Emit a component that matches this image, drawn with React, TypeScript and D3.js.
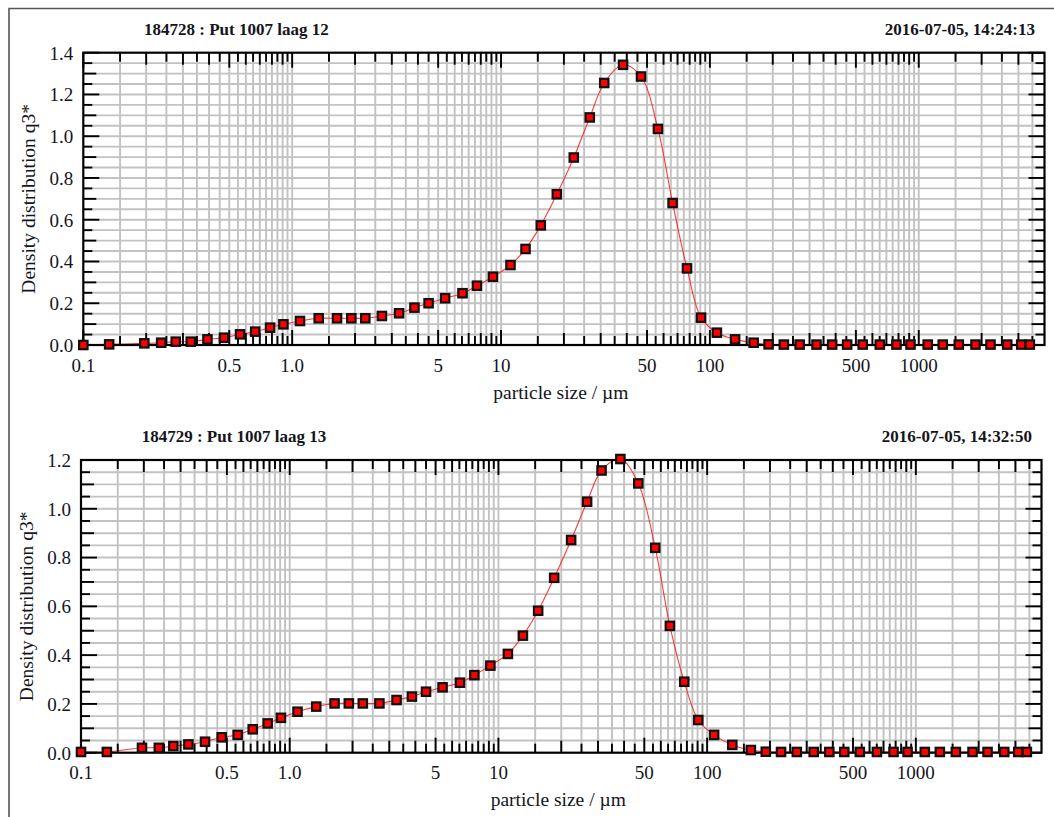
import React from 'react';
import * as d3 from 'd3';

// Particle size classes (µm), shared by both measurements
const SIZES_UM = [
  0.1, 0.133, 0.196, 0.236, 0.277, 0.327, 0.393, 0.472, 0.563, 0.665,
  0.784, 0.908, 1.09, 1.34, 1.64, 1.92, 2.24, 2.69, 3.25, 3.85,
  4.5, 5.4, 6.54, 7.67, 9.15, 11.1, 13.1, 15.5, 18.5, 22.3,
  26.6, 31.2, 38.4, 46.8, 56.4, 66.3, 77.7, 90.7, 108, 132,
  162, 191, 226, 269, 324, 385, 454, 539, 651, 782,
  913, 1104, 1303, 1555, 1869, 2206, 2652, 3095, 3403,
];

// Density distribution q3* — Put 1007 laag 12
const Q3_LAAG12 = [
  0.0, 0.003, 0.008, 0.011, 0.016, 0.016, 0.027, 0.035, 0.051, 0.064,
  0.083, 0.099, 0.115, 0.128, 0.128, 0.128, 0.128, 0.139, 0.152, 0.179,
  0.2, 0.224, 0.248, 0.284, 0.327, 0.383, 0.46, 0.573, 0.722, 0.898,
  1.09, 1.255, 1.342, 1.286, 1.035, 0.68, 0.367, 0.131, 0.059, 0.027,
  0.011, 0.003, 0.002, 0.002, 0.002, 0.002, 0.002, 0.002, 0.002, 0.002,
  0.002, 0.002, 0.002, 0.002, 0.002, 0.002, 0.002, 0.002, 0.002,
];

// Density distribution q3* — Put 1007 laag 13
const Q3_LAAG13 = [
  0.003, 0.003, 0.02, 0.02, 0.027, 0.034, 0.045, 0.063, 0.073, 0.096,
  0.12, 0.143, 0.168, 0.189, 0.202, 0.202, 0.202, 0.202, 0.216, 0.23,
  0.25, 0.268, 0.287, 0.318, 0.357, 0.405, 0.48, 0.582, 0.717, 0.872,
  1.029, 1.157, 1.204, 1.104, 0.84, 0.52, 0.291, 0.134, 0.073, 0.032,
  0.011, 0.004, 0.003, 0.003, 0.003, 0.003, 0.003, 0.003, 0.003, 0.003,
  0.003, 0.003, 0.003, 0.003, 0.003, 0.003, 0.003, 0.003, 0.003,
];

const SAMPLE_TITLES = ['184728 : Put 1007 laag 12', '184729 : Put 1007 laag 13'];
const SAMPLE_TIMES = ['2016-07-05, 14:24:13', '2016-07-05, 14:32:50'];
const SAMPLE_SERIES = [Q3_LAAG12, Q3_LAAG13];
const Y_MAX = [1.4, 1.2];

const X_DOMAIN: [number, number] = [0.1, 4000];
const X_LABEL_VALUES = [0.1, 0.5, 1, 5, 10, 50, 100, 500, 1000];
const X_LABEL_TEXT = ['0.1', '0.5', '1.0', '5', '10', '50', '100', '500', '1000'];

const X_TITLE = 'particle size / µm';
const Y_TITLE = 'Density distribution q3*';

// Plot frames (left, right, top, bottom) for the two stacked panels
const FRAMES = [
  { left: 83.3, right: 1044.5, top: 52.7, bottom: 345 },
  { left: 81, right: 1041.5, top: 460, bottom: 752.7 },
];

const FONT = '"Liberation Serif", "Times New Roman", serif';
const TEXT = '#15151c';
const GRID = '#c2c2c2';

// x tick marks at every half step of each decade
function buildXTicks() {
  const ticks: { v: number; len: number }[] = [];
  for (let k = -1; k <= 3; k++) {
    for (let i = 2; i <= 19; i++) {
      const m = i / 2;
      const v = m * Math.pow(10, k);
      if (v < 0.1 - 1e-9 || v >= 4000) continue;
      const len = m === 1 || m === 5 ? 15 : Number.isInteger(m) ? 12 : 9;
      ticks.push({ v, len });
    }
  }
  return ticks;
}

function buildYTicks(max: number) {
  const n = Math.round(max / 0.05);
  const ticks: { v: number; len: number }[] = [];
  for (let j = 0; j <= n; j++) {
    ticks.push({ v: j * 0.05, len: j % 4 === 0 ? 16 : j % 2 === 0 ? 13 : 9 });
  }
  return ticks;
}

function Panel({ idx }: { idx: number }) {
  const f = FRAMES[idx];
  const values = SAMPLE_SERIES[idx];
  const yMax = Y_MAX[idx];
  const x = d3.scaleLog().domain(X_DOMAIN).range([f.left, f.right]);
  const y = d3.scaleLinear().domain([0, yMax]).range([f.bottom, f.top]);
  const xTicks = buildXTicks();
  const yTicks = buildYTicks(yMax);
  const yLabels = d3.range(0, yMax + 1e-9, 0.2);
  const pts = SIZES_UM.map((s, i) => ({ s, q: values[i] }));
  const line = d3
    .line<{ s: number; q: number }>()
    .x((d) => x(d.s))
    .y((d) => y(d.q))
    .curve(d3.curveCatmullRom.alpha(0.5));
  const clipId = `plot-clip-${idx}`;
  const cx = (f.left + f.right) / 2;
  const cy = (f.top + f.bottom) / 2;

  return (
    <g>
      <defs>
        <clipPath id={clipId}>
          <rect x={f.left} y={f.top} width={f.right - f.left} height={f.bottom - f.top} />
        </clipPath>
      </defs>
      {/* grid */}
      {xTicks
        .filter((t) => t.v > 0.1 + 1e-9)
        .map((t, i) => (
          <line key={`gx${i}`} x1={x(t.v)} x2={x(t.v)} y1={f.top} y2={f.bottom} stroke={GRID} strokeWidth={1.9} />
        ))}
      {yTicks
        .filter((t) => t.v > 1e-9 && t.v < yMax - 1e-9)
        .map((t, i) => (
          <line key={`gy${i}`} x1={f.left} x2={f.right} y1={y(t.v)} y2={y(t.v)} stroke={GRID} strokeWidth={1.9} />
        ))}
      {/* fitted curve */}
      <path d={line(pts) || ''} fill="none" stroke="#ff1a1a" strokeOpacity={0.85} strokeWidth={1.1} clipPath={`url(#${clipId})`} />
      {/* frame */}
      <rect x={f.left} y={f.top} width={f.right - f.left} height={f.bottom - f.top} fill="none" stroke="#000" strokeWidth={2.2} />
      {/* ticks on all four sides */}
      {xTicks.map((t, i) => (
        <g key={`tx${i}`} stroke="#000" strokeWidth={1.9}>
          <line x1={x(t.v)} x2={x(t.v)} y1={f.top} y2={f.top + t.len} />
          <line x1={x(t.v)} x2={x(t.v)} y1={f.bottom} y2={f.bottom - t.len} />
        </g>
      ))}
      {yTicks.map((t, i) => (
        <g key={`ty${i}`} stroke="#000" strokeWidth={1.9}>
          <line x1={f.left} x2={f.left + t.len} y1={y(t.v)} y2={y(t.v)} />
          <line x1={f.right} x2={f.right - t.len} y1={y(t.v)} y2={y(t.v)} />
        </g>
      ))}
      {/* measured classes */}
      {pts.map((d, i) => (
        <rect
          key={`m${i}`}
          x={x(d.s) - 4.2}
          y={y(d.q) - 4.2}
          width={8.4}
          height={8.4}
          fill="#ff0000"
          stroke="#111"
          strokeWidth={2.2}
        />
      ))}
      {/* tick labels */}
      {yLabels.map((v, i) => (
        <text key={`ly${i}`} x={f.left - 10} y={y(v)} dy="0.36em" textAnchor="end" fontFamily={FONT} fontSize={19} fill={TEXT}>
          {v.toFixed(1)}
        </text>
      ))}
      {X_LABEL_VALUES.map((v, i) => (
        <text key={`lx${i}`} x={x(v)} y={f.bottom + 26.5} textAnchor="middle" fontFamily={FONT} fontSize={19} fill={TEXT}>
          {X_LABEL_TEXT[i]}
        </text>
      ))}
      {/* axis titles */}
      <text x={cx - 3} y={f.bottom + 53.5} textAnchor="middle" fontFamily={FONT} fontSize={19.5} fill={TEXT}>
        {X_TITLE}
      </text>
      <text
        transform={`translate(${f.left - 48},${cy}) rotate(-90)`}
        textAnchor="middle"
        fontFamily={FONT}
        fontSize={19.5}
        fill={TEXT}
      >
        {Y_TITLE}
      </text>
      {/* headers */}
      <text x={f.left + 60.7} y={f.top - 18} fontFamily={FONT} fontSize={17} fontWeight="bold" fill={TEXT}>
        {SAMPLE_TITLES[idx]}
      </text>
      <text x={f.right - 9.5} y={f.top - 18} textAnchor="end" fontFamily={FONT} fontSize={17} fontWeight="bold" fill={TEXT}>
        {SAMPLE_TIMES[idx]}
      </text>
    </g>
  );
}

export default function App() {
  return (
    <svg
      width={1054}
      height={817}
      viewBox="0 0 1054 817"
      style={{ position: 'absolute', left: 0, top: 0, background: '#fff' }}
    >
      <rect x={0} y={0} width={1054} height={817} fill="#fff" />
      {/* sheet border */}
      <path d="M9,817 L9,8.5 L1054,8.5" fill="none" stroke="#555" strokeWidth={1.6} />
      <Panel idx={0} />
      <Panel idx={1} />
    </svg>
  );
}
